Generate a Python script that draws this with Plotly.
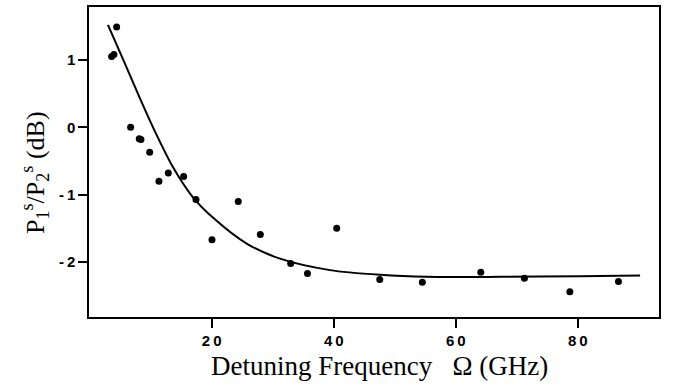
import plotly.graph_objects as go

# Measured points
freq_ghz = [3.61, 3.98, 4.43, 6.72, 8.13, 8.41, 9.84, 11.36, 12.89, 15.41, 17.43,
            20.05, 24.36, 27.97, 32.95, 35.70, 40.49, 47.54, 54.52, 64.10, 71.25,
            78.69, 86.66]
ratio_db = [1.05, 1.08, 1.49, 0.00, -0.17, -0.18, -0.37, -0.80, -0.68, -0.73, -1.07,
            -1.67, -1.10, -1.59, -2.02, -2.17, -1.50, -2.26, -2.30, -2.15, -2.24,
            -2.44, -2.29]

# Fit curve samples
fit_freq = [3.0, 5.79, 8.25, 10.7, 13.65, 16.77, 20.2, 25.8, 31.2, 39.4, 47.6,
            55.3, 67.3, 80.4, 90.2]
fit_db = [1.52, 0.945, 0.43, -0.06, -0.59, -1.02, -1.34, -1.73, -1.95, -2.12,
          -2.19, -2.22, -2.22, -2.21, -2.20]

x_ticks = [20, 40, 60, 80]
x_ticktext = ["2\u20090", "4\u20090", "6\u20090", "8\u20090"]
y_ticks = [-2, -1, 0, 1]
y_ticktext = ["-\u20092", "-\u20091", "0", "1"]

fig = go.Figure()
fig.add_trace(go.Scatter(x=fit_freq, y=fit_db, mode="lines",
                         line=dict(color="black", width=2, shape="spline", smoothing=0.8),
                         showlegend=False, hoverinfo="skip"))
fig.add_trace(go.Scatter(x=freq_ghz, y=ratio_db, mode="markers",
                         marker=dict(color="black", size=7),
                         showlegend=False))

tickfont = dict(family="Liberation Sans", size=15, color="black", weight="bold")
axis_common = dict(showline=True, linecolor="black", linewidth=1.5, mirror=True,
                   ticks="outside", tickcolor="black", tickwidth=1.5, ticklen=9,
                   showgrid=False, zeroline=False, tickfont=tickfont)

fig.update_xaxes(range=[-0.1, 93.3], tickvals=x_ticks, ticktext=x_ticktext, **axis_common)
fig.update_yaxes(range=[-2.816, 1.786], tickvals=y_ticks, ticktext=y_ticktext, **axis_common)

fig.add_annotation(text="Detuning Frequency\u2002 \u03a9 (GHz)", xref="paper", yref="paper",
                   x=0.51, y=-0.1026, xanchor="center", yanchor="top",
                   showarrow=False,
                   font=dict(family="Liberation Serif", size=27, color="black"))
fig.add_annotation(text="P<sub>1</sub><sup>s</sup>/P<sub>2</sub><sup>s</sup> (dB)",
                   xref="paper", yref="paper", x=-0.095, y=0.467, textangle=-90,
                   xanchor="center", yanchor="middle", showarrow=False,
                   font=dict(family="Liberation Serif", size=26, color="black"))

fig.update_layout(width=678, height=386, margin=dict(l=89, r=19, t=5, b=69),
                  paper_bgcolor="white", plot_bgcolor="white")
fig.write_html("out.html", post_script="document.body.style.margin='0';",
               config={"displayModeBar": False})
